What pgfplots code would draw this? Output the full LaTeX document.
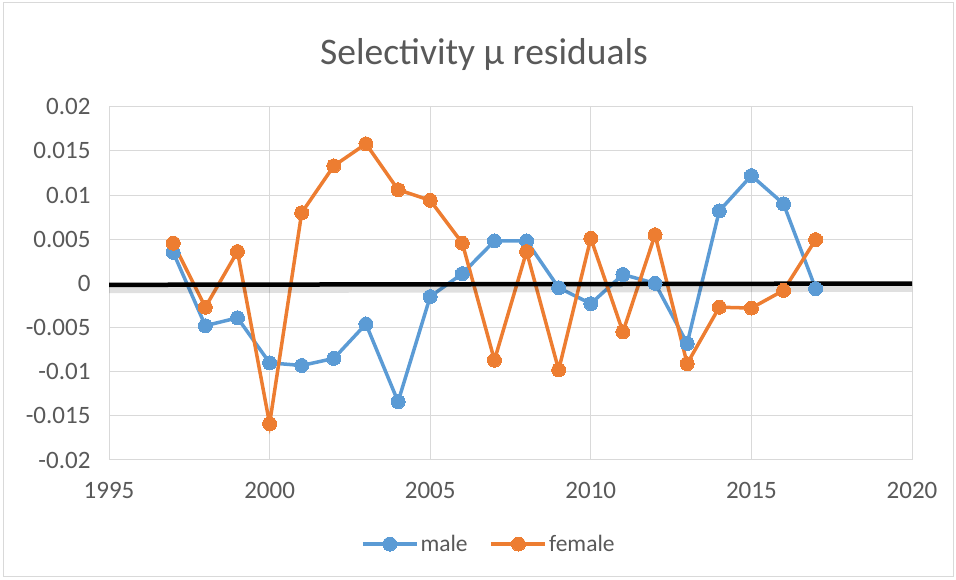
\documentclass[border=0pt]{standalone}
\usepackage{fontspec}
\setmainfont{Carlito}
\usepackage{pgfplots}
\pgfplotsset{compat=1.18}
\definecolor{mblue}{HTML}{5B9BD5}
\definecolor{forange}{HTML}{ED7D31}
\definecolor{txt}{HTML}{595959}
\definecolor{gridc}{HTML}{D9D9D9}
\begin{document}
\begin{tikzpicture}
\path[use as bounding box] (0,0) rectangle (956pt,580pt);
\draw[gridc, line width=1pt] (3pt,3pt) rectangle (953pt,577pt);
\node[text=txt, font=\fontsize{37.5}{42}\selectfont, anchor=base, inner sep=0pt] at (484pt,515pt) {Selectivity μ residuals};
\begin{axis}[
  at={(109pt,120pt)}, anchor=south west, scale only axis,
  width=803pt, height=353.3pt,
  xmin=1995, xmax=2020, ymin=-0.02, ymax=0.02,
  xtick={1995,2000,2005,2010,2015,2020},
  ytick={-0.02,-0.015,-0.01,-0.005,0,0.005,0.01,0.015,0.02},
  scaled y ticks=false,
  grid=major, grid style={gridc, line width=1pt},
  axis line style={gridc, line width=1pt},
  tick style={draw=none},
  /pgf/number format/assume math mode=true,
  yticklabel style={/pgf/number format/fixed, /pgf/number format/precision=3, text=txt, font=\fontsize{25}{29}\selectfont, xshift=-15pt},
  xticklabel style={/pgf/number format/1000 sep={}, text=txt, font=\fontsize{25}{29}\selectfont, yshift=-19pt},
  legend style={at={(axis description cs:0.473,-0.238)}, anchor=center, draw=none, fill=none,
    legend columns=2, font=\fontsize{23.5}{27}\selectfont, text=txt,
    /tikz/every even column/.append style={column sep=20pt}},
  legend image code/.code={\draw[mark repeat=2,mark phase=2,#1] plot coordinates {(0pt,0pt) (27pt,0pt) (54pt,0pt)};},
]
\addplot[mblue, line width=3.5pt, mark=*, mark size=7pt, mark options={solid, fill=mblue, draw=mblue, line width=0pt}] coordinates {
(1997,0.0035) (1998,-0.0048) (1999,-0.0039) (2000,-0.0090) (2001,-0.0093)
(2002,-0.0085) (2003,-0.0046) (2004,-0.0134) (2005,-0.0015) (2006,0.0011)
(2007,0.0048) (2008,0.0048) (2009,-0.0005) (2010,-0.0023) (2011,0.0010)
(2012,0.0000) (2013,-0.0068) (2014,0.0082) (2015,0.0122) (2016,0.0090)
(2017,-0.0006)};
\addlegendentry{male}
\addplot[forange, line width=3.5pt, mark=*, mark size=7pt, mark options={solid, fill=forange, draw=forange, line width=0pt}] coordinates {
(1997,0.00455) (1998,-0.0027) (1999,0.0036) (2000,-0.0159) (2001,0.0080)
(2002,0.0133) (2003,0.0158) (2004,0.0106) (2005,0.0094) (2006,0.00455)
(2007,-0.0087) (2008,0.0036) (2009,-0.0098) (2010,0.0051) (2011,-0.0055)
(2012,0.0055) (2013,-0.0091) (2014,-0.0027) (2015,-0.0028) (2016,-0.0008)
(2017,0.00495)};
\addlegendentry{female}
\addplot[black, opacity=0.12, line width=9pt, forget plot] coordinates {(1995,-0.00060) (2020,-0.00045)};
\addplot[black, line width=4.5pt, forget plot] coordinates {(1995,-0.00017) (2020,-0.00002)};
\end{axis}
\end{tikzpicture}
\end{document}
